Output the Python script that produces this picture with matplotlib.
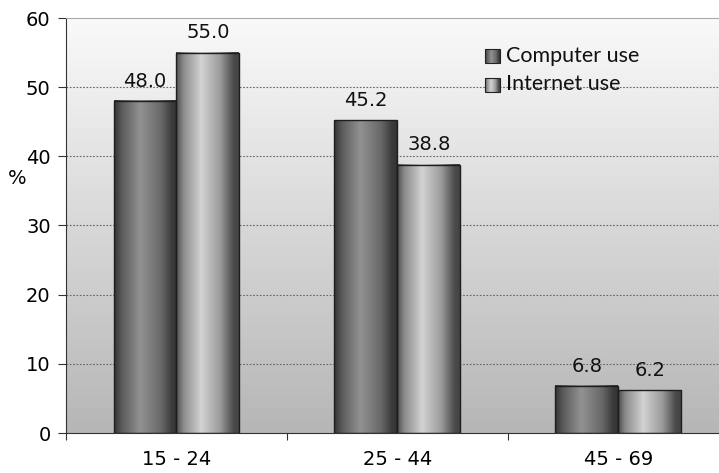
import numpy as np
import matplotlib
matplotlib.use("Agg")
import matplotlib.pyplot as plt
from matplotlib.colors import LinearSegmentedColormap
from matplotlib.patches import Rectangle

# Data
age_groups = ["15 - 24", "25 - 44", "45 - 69"]
computer_use = [48.0, 45.2, 6.8]
internet_use = [55.0, 38.8, 6.2]
series_names = ["Computer use", "Internet use"]
y_ticks = [0, 10, 20, 30, 40, 50, 60]

NUM_FONT = "DejaVu Sans"
LEG_FONT = "Lato"

fig = plt.figure(figsize=(7.19, 4.73), dpi=100)
ax = fig.add_axes([66 / 719, 40 / 473, 663 / 719, 415 / 473])

# Vertical background gradient of the plot area
bg_cmap = LinearSegmentedColormap.from_list("bg", ["#b6b6b6", "#fafafa"])
ax.imshow(np.linspace(0, 1, 256).reshape(-1, 1), cmap=bg_cmap, origin="lower",
          extent=[0, 1, 0, 1], transform=ax.transAxes, aspect="auto", zorder=0)

# Cylinder-like horizontal shading for the two series
comp_cmap = LinearSegmentedColormap.from_list(
    "comp", [(0, "#333333"), (0.12, "#5a5a5a"), (0.42, "#929292"),
             (0.75, "#686868"), (0.92, "#3c3c3c"), (1, "#333333")])
int_cmap = LinearSegmentedColormap.from_list(
    "int", [(0, "#4e4e4e"), (0.12, "#8c8c8c"), (0.40, "#d3d3d3"),
            (0.70, "#9c9c9c"), (0.92, "#4a4a4a"), (1, "#444444")])
ramp = np.linspace(0, 1, 256).reshape(1, -1)

x = np.arange(len(age_groups)) + 0.5
w = 63 / 221

for vals, offset, cmap in [(computer_use, -w / 2, comp_cmap),
                           (internet_use, w / 2, int_cmap)]:
    bars = ax.bar(x + offset, vals, w, facecolor="none", edgecolor="#1e1e1e",
                  linewidth=1.0, zorder=3)
    for rect, v in zip(bars, vals):
        x0 = rect.get_x()
        ax.imshow(ramp, cmap=cmap, extent=[x0, x0 + w, 0, v],
                  aspect="auto", zorder=2, interpolation="bilinear")
        ax.annotate(f"{v:.1f}", (x0 + w / 2, v), xytext=(0, 7.5),
                    textcoords="offset points", ha="center", va="bottom",
                    fontsize=14, family=NUM_FONT, color="#111111", zorder=4)

ax.set_xlim(0, 3)
ax.set_ylim(0, 60)
ax.set_aspect("auto")

# Grid
ax.set_yticks(y_ticks)
for yv in y_ticks[1:-1]:
    ax.axhline(yv, color="#666666", linewidth=0.8, linestyle=(0, (1.5, 1.5)), zorder=1)

# Spines
ax.spines["right"].set_visible(False)
ax.spines["top"].set_color("#a8a8a8")
ax.spines["left"].set_color("#333333")
ax.spines["bottom"].set_color("#333333")

# Ticks: marks at category boundaries, labels at centres
ax.set_xticks([0, 1, 2, 3])
ax.set_xticklabels([])
ax.set_xticks(x, minor=True)
ax.set_xticklabels(age_groups, minor=True, fontsize=14, family=NUM_FONT)
ax.tick_params(axis="x", which="major", length=5, color="#333333", direction="out")
ax.tick_params(axis="x", which="minor", length=0, pad=12)
ax.tick_params(axis="y", length=6, color="#333333", pad=5, labelsize=14)
for lab in ax.get_yticklabels():
    lab.set_family(NUM_FONT)

ax.text(-0.074, 0.614, "%", transform=ax.transAxes, ha="center", va="center",
        fontsize=14, family=NUM_FONT)

# Legend drawn by hand with shaded swatches
legend_rows = [(series_names[0], comp_cmap, 0.8916, 0.894),
               (series_names[1], int_cmap, 0.8217, 0.8265)]
sx0, sx1 = 0.632, 0.6546
for name, cmap, sy0, base in legend_rows:
    sy1 = sy0 + 0.0337
    ax.imshow(ramp, cmap=cmap, extent=[sx0, sx1, sy0, sy1], transform=ax.transAxes,
              aspect="auto", zorder=5)
    ax.add_patch(Rectangle((sx0, sy0), sx1 - sx0, sy1 - sy0, transform=ax.transAxes,
                           facecolor="none", edgecolor="#222222", linewidth=0.8, zorder=6))
    ax.text(0.6637, base, name, transform=ax.transAxes, ha="left", va="baseline",
            fontsize=15.5, family=LEG_FONT, color="#111111", zorder=6)

ax.set_xlim(0, 3)
ax.set_ylim(0, 60)

fig.savefig("out.png", dpi=100, facecolor="white")
